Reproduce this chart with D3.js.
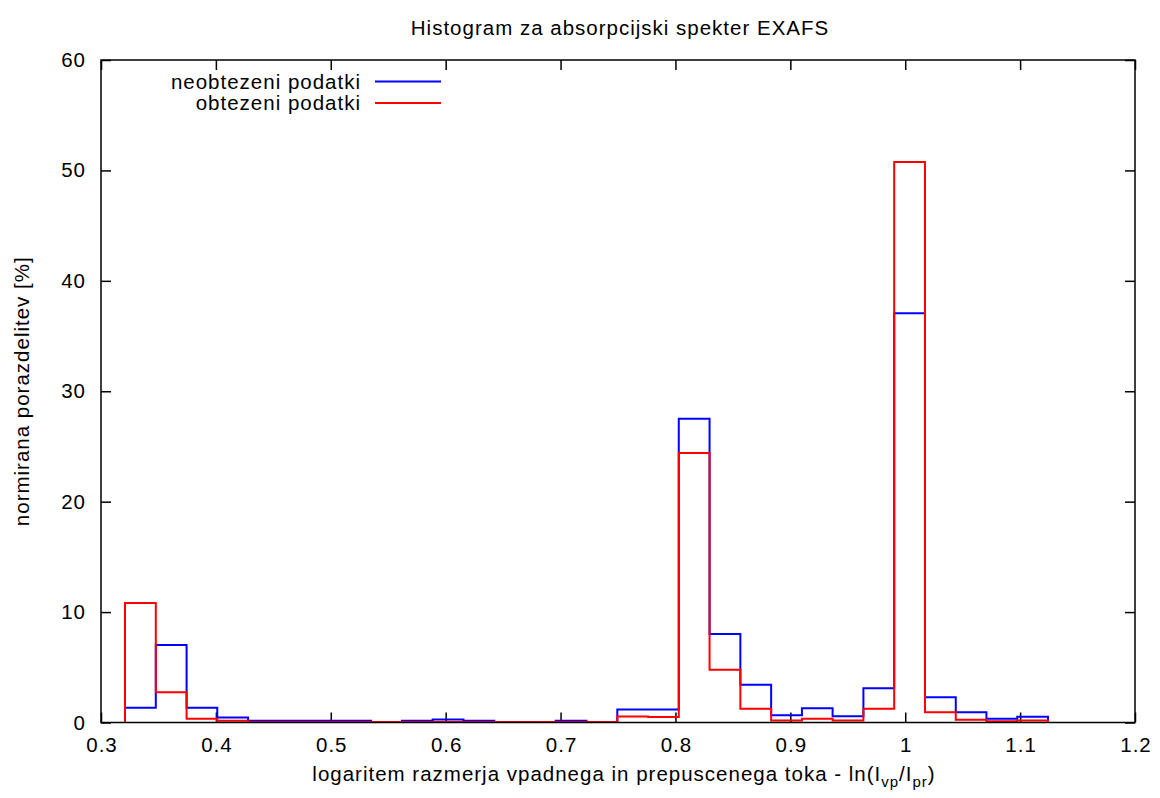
<!DOCTYPE html>
<html>
<head>
<meta charset="utf-8">
<script src="https://cdn.jsdelivr.net/npm/d3@7"></script>
<style>
  body { margin: 0; background: #fff; }
  text { font-family: "Liberation Sans", Arial, sans-serif; fill: #000; font-size: 20.5px; letter-spacing: 1px; }
</style>
</head>
<body>
<div id="chart"></div>
<script>
// histogram bin edges (31 edges -> 30 bins)
var binEdges = [0.3209, 0.3477, 0.3745, 0.4012, 0.4280, 0.4548, 0.4816, 0.5084,
    0.5351, 0.5619, 0.5887, 0.6155, 0.6423, 0.6690, 0.6958, 0.7226, 0.7494,
    0.7762, 0.8029, 0.8297, 0.8565, 0.8833, 0.9101, 0.9368, 0.9636, 0.9904,
    1.0172, 1.0440, 1.0707, 1.0975, 1.1243];

// neobtezeni podatki (unweighted), percent per bin
var unweighted = [1.33, 7.03, 1.33, 0.45, 0.15, 0.15, 0.15, 0.15, 0.05, 0.15,
    0.27, 0.15, 0.05, 0.05, 0.15, 0.05, 1.18, 1.18, 27.5, 8.02,
    3.41, 0.66, 1.3, 0.57, 3.1, 37.07, 2.29, 0.93, 0.33, 0.51];

// obtezeni podatki (weighted), percent per bin
var weighted = [10.83, 2.75, 0.33, 0.15, 0.04, 0.04, 0.04, 0.04, 0.04, 0.04,
    0.04, 0.04, 0.04, 0.04, 0.04, 0.04, 0.55, 0.5, 24.4, 4.77,
    1.24, 0.18, 0.33, 0.18, 1.24, 50.77, 0.93, 0.24, 0.12, 0.18];

var seriesNames = ["neobtezeni podatki", "obtezeni podatki"];
var xTicks = [0.3, 0.4, 0.5, 0.6, 0.7, 0.8, 0.9, 1, 1.1, 1.2];
var yTicks = [0, 10, 20, 30, 40, 50, 60];

// set the dimensions and margins of the graph
var W = 1160, H = 798;
var margin = { top: 60, right: 25, bottom: 75.5, left: 101 },
    width = W - margin.left - margin.right,
    height = H - margin.top - margin.bottom;

var x = d3.scaleLinear().domain([0.3, 1.2]).range([0, width]);
var y = d3.scaleLinear().domain([0, 60]).range([height, 0]);

var svg = d3.select("#chart")
    .append("svg")
    .attr("width", W)
    .attr("height", H);

var g = svg.append("g")
    .attr("transform", "translate(" + margin.left + "," + margin.top + ")");

var fmt = function (d) { return String(+d.toFixed(1)); };

// axes, ticks pointing inward, mirrored on top/right
function styleAxis(sel) {
    sel.select(".domain").remove();
    sel.selectAll(".tick line").attr("stroke", "#000").attr("stroke-width", 1.5);
    sel.selectAll(".tick text").attr("fill", "#000");
}
// d3 sets font attrs on the axis group; drop them so css applies
function clearFont(sel) { sel.attr("font-size", null).attr("font-family", null); }

g.append("g")
    .attr("transform", "translate(0," + height + ")")
    .call(d3.axisBottom(x).tickValues(xTicks).tickFormat(fmt)
        .tickSizeInner(-10).tickSizeOuter(0).tickPadding(15))
    .call(styleAxis).call(clearFont)
    .selectAll(".tick text").attr("dx", "0.5px");

g.append("g")
    .call(d3.axisTop(x).tickValues(xTicks).tickFormat("")
        .tickSizeInner(-10).tickSizeOuter(0))
    .call(styleAxis);

g.append("g")
    .call(d3.axisLeft(y).tickValues(yTicks).tickFormat(d3.format("d"))
        .tickSizeInner(-10).tickSizeOuter(0).tickPadding(15))
    .call(styleAxis).call(clearFont);

g.append("g")
    .attr("transform", "translate(" + width + ",0)")
    .call(d3.axisRight(y).tickValues(yTicks).tickFormat("")
        .tickSizeInner(-10).tickSizeOuter(0))
    .call(styleAxis);

// histogram steps (histeps)
function stepPoints(vals) {
    var pts = [[binEdges[0], 0]];
    vals.forEach(function (v, i) { pts.push([binEdges[i], v]); });
    pts.push([binEdges[binEdges.length - 1], 0]);
    return pts;
}

var line = d3.line()
    .x(function (d) { return x(d[0]); })
    .y(function (d) { return y(d[1]); })
    .curve(d3.curveStepAfter);

var colors = ["#0000ff", "#ff0000"];
[unweighted, weighted].forEach(function (vals, i) {
    g.append("path")
        .attr("d", line(stepPoints(vals)))
        .attr("fill", "none")
        .attr("stroke", colors[i])
        .attr("stroke-width", 2);
});

// border
g.append("rect")
    .attr("width", width)
    .attr("height", height)
    .attr("fill", "none")
    .attr("stroke", "#000")
    .attr("stroke-width", 1.5);

// legend
var legend = svg.append("g")
    .selectAll("g")
    .data(seriesNames)
    .enter()
    .append("g")
    .attr("transform", function (d, i) { return "translate(0," + (81.5 + i * 21.5) + ")"; });

legend.append("text")
    .attr("x", 361)
    .attr("dy", "0.35em")
    .attr("text-anchor", "end")
    .text(function (d) { return d; });

legend.append("line")
    .attr("x1", 375).attr("x2", 441)
    .attr("stroke", function (d, i) { return colors[i]; })
    .attr("stroke-width", 2);

// title
svg.append("text")
    .attr("x", margin.left + width / 2 + 2)
    .attr("y", 35)
    .attr("text-anchor", "middle")
    .text("Histogram za absorpcijski spekter EXAFS");

// y label
svg.append("text")
    .attr("transform", "translate(29," + (margin.top + height / 2) + ") rotate(-90)")
    .attr("text-anchor", "middle")
    .text("normirana porazdelitev [%]");

// x label with subscripts
var xl = svg.append("text")
    .attr("x", margin.left + width / 2 + 6)
    .attr("y", 781)
    .attr("text-anchor", "middle");
xl.append("tspan").text("logaritem razmerja vpadnega in prepuscenega toka - ln(I");
xl.append("tspan").attr("dy", 6).style("font-size", "15px").text("vp");
xl.append("tspan").attr("dy", -6).text("/I");
xl.append("tspan").attr("dy", 6).style("font-size", "15px").text("pr");
xl.append("tspan").attr("dy", -6).text(")");
</script>
</body>
</html>
